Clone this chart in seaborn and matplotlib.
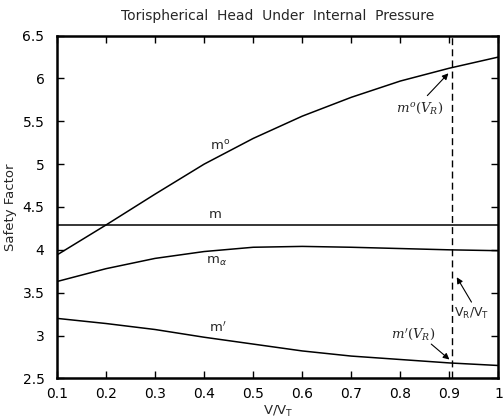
import matplotlib
matplotlib.use("Agg")
import matplotlib.pyplot as plt
import seaborn as sns
import pandas as pd

# ---- data ----
v_ratio = [0.1, 0.2, 0.3, 0.4, 0.5, 0.6, 0.7, 0.8, 0.9, 1.0]
m_zero = [3.94, 4.29, 4.65, 5.00, 5.30, 5.56, 5.78, 5.97, 6.12, 6.25]
m_const = [4.29, 4.29, 4.29, 4.29, 4.29, 4.29, 4.29, 4.29, 4.29, 4.29]
m_alpha = [3.63, 3.78, 3.90, 3.98, 4.03, 4.04, 4.03, 4.015, 4.00, 3.99]
m_prime = [3.20, 3.14, 3.07, 2.98, 2.90, 2.82, 2.76, 2.72, 2.68, 2.65]
vr_vt = 0.905

x_ticks = [0.1, 0.2, 0.3, 0.4, 0.5, 0.6, 0.7, 0.8, 0.9, 1.0]
x_tick_labels = ["0.1", "0.2", "0.3", "0.4", "0.5", "0.6", "0.7", "0.8", "0.9", "1"]
y_ticks = [2.5, 3, 3.5, 4, 4.5, 5, 5.5, 6, 6.5]
y_tick_labels = ["2.5", "3", "3.5", "4", "4.5", "5", "5.5", "6", "6.5"]

sns.set_theme(style="ticks")
plt.rcParams["font.family"] = ["DejaVu Sans"]

df = pd.concat([
    pd.DataFrame({"V": v_ratio, "SF": m_zero, "curve": "m0"}),
    pd.DataFrame({"V": v_ratio, "SF": m_const, "curve": "m"}),
    pd.DataFrame({"V": v_ratio, "SF": m_alpha, "curve": "ma"}),
    pd.DataFrame({"V": v_ratio, "SF": m_prime, "curve": "mp"}),
])

fig = plt.figure(figsize=(5.04, 4.19), dpi=100)
ax = fig.add_axes([0.113, 0.097, 0.876, 0.818])

sns.lineplot(data=df, x="V", y="SF", hue="curve", ax=ax,
             palette=["black"] * 4, linewidth=1.1, legend=False)
ax.axvline(vr_vt, color="black", linestyle=(0, (5, 3)), linewidth=1.0)

ax.set_xlim(0.1, 1.0)
ax.set_ylim(2.5, 6.5)
ax.set_xticks(x_ticks)
ax.set_xticklabels(x_tick_labels)
ax.set_yticks(y_ticks)
ax.set_yticklabels(y_tick_labels)
ax.tick_params(direction="in", length=5, width=1.0, top=True, right=True,
               labelsize=10, colors="black")
ax.tick_params(axis="x", pad=6)
ax.tick_params(axis="y", pad=9)
for s in ax.spines.values():
    s.set_linewidth(1.8)
    s.set_color("black")
    s.set_visible(True)

ax.set_xlabel("V/V$_\\mathregular{T}$", fontsize=9.5, labelpad=2)
ax.set_ylabel("Safety Factor", fontsize=9.5, labelpad=4)
ax.set_title("Torispherical  Head  Under  Internal  Pressure", fontsize=10, pad=11)

# curve labels
ax.text(0.433, 5.21, "m$^\\mathregular{o}$", fontsize=9.5, ha="center", va="center")
ax.text(0.423, 4.41, "m", fontsize=9.5, ha="center", va="center")
ax.text(0.426, 3.86, "m$_\\alpha$", fontsize=9.5, ha="center", va="center")
ax.text(0.427, 3.09, "m$'$", fontsize=9.5, ha="center", va="center")

arrow = dict(arrowstyle="-|>", color="black", lw=0.8, shrinkA=0, shrinkB=0,
             mutation_scale=9)
ax.annotate("", xy=(0.898, 6.06), xytext=(0.855, 5.80), arrowprops=arrow)
ax.text(0.839, 5.65, "$m^o(V_R)$", fontsize=9.5, ha="center", va="center",
        math_fontfamily="dejavuserif")
ax.annotate("", xy=(0.915, 3.68), xytext=(0.945, 3.39), arrowprops=arrow)
ax.text(0.945, 3.26, "V$_\\mathregular{R}$/V$_\\mathregular{T}$", fontsize=9,
        ha="center", va="center")
ax.annotate("", xy=(0.900, 2.72), xytext=(0.863, 2.90), arrowprops=arrow)
ax.text(0.826, 3.02, "$m'(V_R)$", fontsize=9.5, ha="center", va="center",
        math_fontfamily="dejavuserif")

fig.savefig("out.png", dpi=100)
